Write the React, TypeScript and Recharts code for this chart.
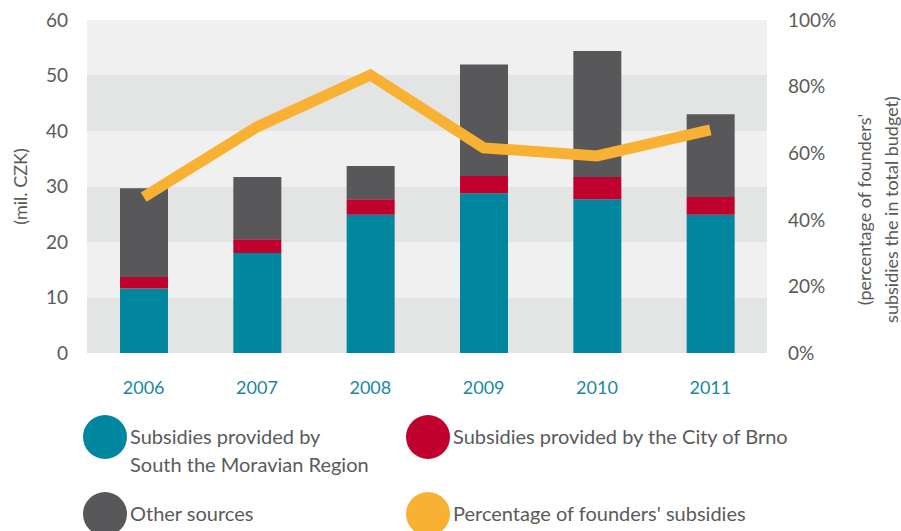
import { ComposedChart, Bar, Line, XAxis, YAxis, CartesianGrid } from "recharts";

const years = ["2006", "2007", "2008", "2009", "2010", "2011"];
const southMoravian = [11.6, 18.0, 24.9, 28.8, 27.7, 24.9];
const cityOfBrno = [2.1, 2.5, 2.8, 3.1, 4.0, 3.2];
const otherSources = [16.0, 11.2, 6.0, 20.1, 22.7, 14.9];
const founderShare = [46.8, 67.9, 83.5, 61.6, 59.2, 67.0];

const leftTicks = [0, 10, 20, 30, 40, 50, 60];
const rightTicks = [0, 20, 40, 60, 80, 100];

const TEAL = "#00869f";
const RED = "#c0002d";
const GREY = "#58585a";
const ORANGE = "#f8b133";
const TEXT = "#5a5a5a";
const FONT = "Lato, 'Open Sans', sans-serif";

const data = years.map((year, i) => ({
  year,
  south: southMoravian[i],
  brno: cityOfBrno[i],
  other: otherSources[i],
  share: founderShare[i],
}));

const legendItems = [
  { label: ["Subsidies provided by", "South the Moravian Region"], color: TEAL, left: 83, top: 415 },
  { label: ["Subsidies provided by the City of Brno"], color: RED, left: 406, top: 415 },
  { label: ["Other sources"], color: GREY, left: 83, top: 492 },
  { label: ["Percentage of founders' subsidies"], color: ORANGE, left: 406, top: 492 },
];

const LeftLabel = ({ viewBox }: any) => {
  const cy = viewBox.y + viewBox.height / 2;
  return (
    <text x={20} y={cy} transform={`rotate(-90 20 ${cy})`} textAnchor="middle"
      dominantBaseline="central" fill={TEXT} fontSize={18} fontFamily={FONT}>
      (mil. CZK)
    </text>
  );
};

const RightLabel = ({ viewBox }: any) => {
  const cy = viewBox.y + viewBox.height / 2 + 23;
  return (
    <g fill={TEXT} fontSize={18} fontFamily={FONT}>
      <text x={864} y={cy} transform={`rotate(-90 864 ${cy})`} textAnchor="middle" dominantBaseline="central">
        (percentage of founders'
      </text>
      <text x={891} y={cy} transform={`rotate(-90 891 ${cy})`} textAnchor="middle" dominantBaseline="central">
        subsidies the in total budget)
      </text>
    </g>
  );
};

export default function App() {
  return (
    <div style={{ position: "absolute", left: 0, top: 0, width: 901, height: 531, background: "#fff", fontFamily: FONT }}>
      <ComposedChart width={901} height={531} data={data}
        margin={{ top: 20, right: 0, bottom: 148, left: 0 }}>
        <CartesianGrid vertical={false} stroke="transparent" horizontalFill={["#f0f0f0", "#e3e4e4"]} yAxisId="left" />
        <XAxis dataKey="year" axisLine={false} tickLine={false} height={30} tickMargin={22}
          tick={{ fill: "#1a87a3", fontSize: 18, fontFamily: FONT }} />
        <YAxis yAxisId="left" domain={[0, 60]} ticks={leftTicks} width={87} axisLine={false} tickLine={false}
          tickMargin={13} tick={{ fill: TEXT, fontSize: 19, fontFamily: FONT }} label={<LeftLabel />} />
        <YAxis yAxisId="right" orientation="right" domain={[0, 100]} ticks={rightTicks} width={134}
          axisLine={false} tickLine={false} tickMargin={15} tickFormatter={(v: number) => `${v}%`}
          tick={{ fill: TEXT, fontSize: 19, fontFamily: FONT, textAnchor: "start" }} label={<RightLabel />} />
        <Bar yAxisId="left" dataKey="south" stackId="a" fill={TEAL} barSize={48} isAnimationActive={false} />
        <Bar yAxisId="left" dataKey="brno" stackId="a" fill={RED} barSize={48} isAnimationActive={false} />
        <Bar yAxisId="left" dataKey="other" stackId="a" fill={GREY} barSize={48} isAnimationActive={false} />
        <Line yAxisId="right" dataKey="share" type="linear" stroke={ORANGE} strokeWidth={11}
          strokeLinejoin="miter" strokeLinecap="butt" dot={false} activeDot={false} isAnimationActive={false} />
      </ComposedChart>
      {legendItems.map((item) => (
        <div key={item.label[0]} style={{ position: "absolute", left: item.left, top: item.top }}>
          <div style={{ position: "absolute", left: 0, top: 0, width: 44, height: 44, borderRadius: "50%", background: item.color }} />
          <div style={{ position: "absolute", left: 47, top: 7, whiteSpace: "nowrap", color: TEXT, fontSize: 20, lineHeight: "28px" }}>
            {item.label.map((l) => <div key={l}>{l}</div>)}
          </div>
        </div>
      ))}
    </div>
  );
}
